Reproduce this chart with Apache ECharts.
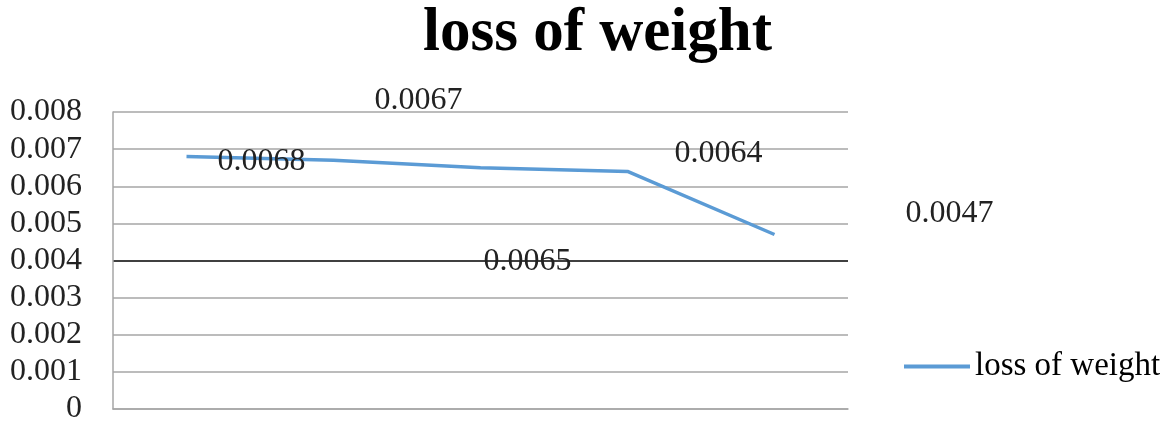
<!DOCTYPE html>
<html>
<head>
<meta charset="utf-8">
<script src="https://cdn.jsdelivr.net/npm/echarts@6/dist/echarts.min.js"></script>
<style>
  html, body { margin: 0; padding: 0; background: #ffffff; }
  #chart { width: 1176px; height: 425px; }
</style>
</head>
<body>
<div id="chart"></div>
<script>
// Chart data
const chartTitle = 'loss of weight';
const seriesName = 'loss of weight';
const categories = ['1', '2', '3', '4', '5'];
const lossValues = [0.0068, 0.0067, 0.0065, 0.0064, 0.0047];
const yTicks = [0, 0.001, 0.002, 0.003, 0.004, 0.005, 0.006, 0.007, 0.008];

// Where each value label sits relative to its point (dx, dy in px)
const labelShift = [[75, 5], [85, -60], [47, 94], [91, -18], [175, -21]];

const serif = '"Liberation Serif", "DejaVu Serif", serif';
const lineBlue = '#5b9bd5';

// Gridline colours: the 0.004 line is drawn in black, the rest in grey
const gridColors = yTicks.map(v => (Math.abs(v - 0.004) < 1e-9 ? '#000000' : '#a6a6a6'));

const chart = echarts.init(document.getElementById('chart'), null, { renderer: 'canvas' });

chart.setOption({
  backgroundColor: '#ffffff',
  animation: false,
  title: {
    text: chartTitle,
    left: 423,
    top: 4,
    padding: 0,
    textStyle: { fontFamily: serif, fontWeight: 'bold', fontSize: 61, color: '#000000' }
  },
  legend: {
    data: [seriesName],
    left: 899,
    top: 345,
    itemWidth: 66,
    itemHeight: 4,
    itemGap: 10,
    icon: 'rect',
    textStyle: { fontFamily: serif, fontSize: 33, color: '#000000', padding: [0, 0, 0, 0] }
  },
  grid: { left: 113, right: 328, top: 112, bottom: 12, containLabel: false },
  xAxis: {
    type: 'category',
    data: categories,
    boundaryGap: true,
    axisLine: { show: true, lineStyle: { color: '#a6a6a6', width: 1.5 } },
    axisTick: { show: false },
    axisLabel: { show: false },
    splitLine: { show: false }
  },
  yAxis: {
    type: 'value',
    min: 0,
    max: 0.008,
    interval: 0.001,
    axisLine: { show: true, lineStyle: { color: '#a6a6a6', width: 1.5 } },
    axisTick: { show: false },
    axisLabel: {
      margin: 31,
      fontFamily: serif,
      fontSize: 32,
      color: '#222222',
      formatter: v => (v === 0 ? '0' : v.toFixed(3))
    },
    splitLine: { show: true, lineStyle: { color: gridColors, width: 1.5 } }
  },
  series: [{
    name: seriesName,
    type: 'line',
    data: lossValues,
    symbol: 'circle',
    symbolSize: 0,
    showSymbol: true,
    lineStyle: { color: lineBlue, width: 3.5 },
    itemStyle: { color: lineBlue },
    label: {
      show: true,
      position: 'inside',
      fontFamily: serif,
      fontSize: 32,
      color: '#222222',
      formatter: p => String(p.value)
    },
    // shift each value label away from its point
    labelLayout: p => ({
      dx: labelShift[p.dataIndex][0],
      dy: labelShift[p.dataIndex][1],
      hideOverlap: false
    }),
    z: 3
  }]
});
</script>
</body>
</html>
